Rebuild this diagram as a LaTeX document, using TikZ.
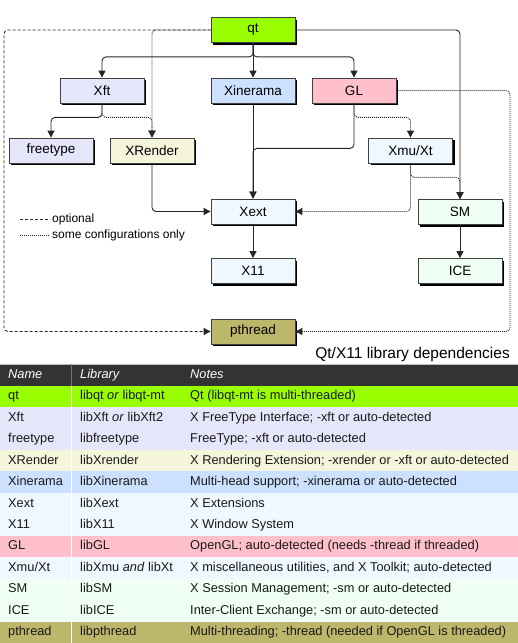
\documentclass[tikz,border=0pt]{standalone}
\usepackage{fontspec}
\setmainfont{Liberation Sans}
\usetikzlibrary{arrows.meta,shadows}

\definecolor{qtgreen}{HTML}{99FF00}
\definecolor{xftlavender}{HTML}{E6E6FA}
\definecolor{renderbeige}{HTML}{F5F5DC}
\definecolor{xineblue}{HTML}{CCE0FF}
\definecolor{xlibblue}{HTML}{F0F8FF}
\definecolor{glpink}{HTML}{FFC0CB}
\definecolor{smmint}{HTML}{F0FFF4}
\definecolor{threadkhaki}{HTML}{BDB76B}
\definecolor{headgrey}{HTML}{333333}

\begin{document}
\begin{tikzpicture}[x=1pt,y=-1pt]
\useasboundingbox (0,0) rectangle (518,643);

% Style for nodes
\tikzstyle{libbox}=[draw=black!75,line width=0.8pt,minimum width=84pt,minimum height=25pt,inner sep=0pt,font=\fontsize{13.5}{15}\selectfont,drop shadow={shadow xshift=2pt,shadow yshift=-2pt,fill=black,opacity=1}]
\tikzstyle{cell}=[anchor=west,inner sep=0pt,text height=9.5pt,text depth=2.5pt,font=\fontsize{12.8}{15}\selectfont,text=black!90]
% Style for connectors
\tikzstyle{dep}=[draw=black!85,line width=0.9pt,rounded corners=4pt,-{Triangle[length=7pt,width=7pt]}]
\tikzstyle{optional}=[dep,dash pattern=on 3pt off 2pt]
\tikzstyle{someconf}=[dep,dash pattern=on 1pt off 1pt]

% The libraries
\node(qt)[libbox,fill=qtgreen] at (253,30){qt};
\node(Xft)[libbox,fill=xftlavender] at (102,90.5){Xft};
\node(Xinerama)[libbox,fill=xineblue] at (253,90.5){Xinerama};
\node(GL)[libbox,fill=glpink] at (354,90.5){GL};
\node(freetype)[libbox,fill=xftlavender] at (51,150.5){freetype};
\node(XRender)[libbox,fill=renderbeige] at (152,150.5){XRender};
\node(Xmu)[libbox,fill=xlibblue] at (410.5,150.5){Xmu/Xt};
\node(Xext)[libbox,fill=xlibblue] at (253,211.5){Xext};
\node(SM)[libbox,fill=smmint] at (460,212){SM};
\node(X11)[libbox,fill=xlibblue] at (253,271){X11};
\node(ICE)[libbox,fill=smmint] at (460,271){ICE};
\node(pthread)[libbox,fill=threadkhaki] at (253,331.5){pthread};

% Required dependencies
\draw[dep] (qt.south) -- ++(0,14) -| (Xft.north);
\draw[dep] (qt.south) -- (Xinerama.north);
\draw[dep] (qt.south) -- ++(0,14) -| (GL.north);
\draw[dep] (qt.east) -| (SM.north);
\draw[dep] (Xft.south) -- ++(0,14) -| (freetype.north);
\draw[dep] (XRender.south) |- (Xext.west);
\draw[dep] (Xinerama.south) -- (Xext.north);
\draw[dep] (GL.south) -- ++(0,45) -| (Xext.north);
\draw[dep] (Xext.south) -- (X11.north);
\draw[dep] (SM.south) -- (ICE.north);
% Optional
\coordinate (leftrail) at (4,331.5);
\draw[optional] (qt.west) -| (leftrail) -- (pthread.west);
% Some configurations only
\coordinate (rightrail) at (510,331.5);
\draw[someconf] (qt.west) -| (XRender.north);
\draw[someconf] (Xft.south) -- ++(0,14) -| (XRender.north);
\draw[someconf] (GL.south) -- ++(0,14) -| (Xmu.north);
\draw[someconf] (GL.east) -| (rightrail) -- (pthread.east);
\draw[someconf] (Xmu.south) |- (Xext.east);
\draw[someconf] (Xmu.south) -- ++(0,14) -| (SM.north);

% Legend
\draw[black!85,line width=0.9pt,dash pattern=on 3pt off 2pt] (20,219) -- (50,219);
\node(optlabel)[anchor=west,inner sep=1pt,font=\fontsize{12}{14}\selectfont] at (51,219){optional};
\draw[black!85,line width=0.9pt,dash pattern=on 1pt off 1pt] (20,235) -- (50,235);
\node(somelabel)[anchor=west,inner sep=1pt,font=\fontsize{12}{14}\selectfont] at (51,235){some configurations only};

% Caption
\node(caption)[anchor=east,inner sep=0pt,font=\fontsize{15.5}{17}\selectfont] at (510,354){Qt/X11 library dependencies};

% The table
\fill[headgrey] (0,364) rectangle (518,385.5);
\draw[black!25] (0,364) -- (518,364);
\node(hname)[cell,text=white] at (8,375){\itshape Name};
\node(hlib)[cell,text=white] at (80,375){\itshape Library};
\node(hnotes)[cell,text=white] at (190,375){\itshape Notes};
\foreach \i/\nm/\lib/\note/\col in {
  1/qt/{libqt \textit{or} libqt-mt}/{Qt (libqt-mt is multi-threaded)}/qtgreen,
  2/Xft/{libXft \textit{or} libXft2}/{X FreeType Interface; -xft or auto-detected}/xftlavender,
  3/freetype/libfreetype/{FreeType; -xft or auto-detected}/xftlavender,
  4/XRender/libXrender/{X Rendering Extension; -xrender or -xft or auto-detected}/renderbeige,
  5/Xinerama/libXinerama/{Multi-head support; -xinerama or auto-detected}/xineblue,
  6/Xext/libXext/{X Extensions}/xlibblue,
  7/X11/libX11/{X Window System}/xlibblue,
  8/GL/libGL/{OpenGL; auto-detected (needs -thread if threaded)}/glpink,
  9/{Xmu/Xt}/{libXmu \textit{and} libXt}/{X miscellaneous utilities, and X Toolkit; auto-detected}/xlibblue,
  10/SM/libSM/{X Session Management; -sm or auto-detected}/smmint,
  11/ICE/libICE/{Inter-Client Exchange; -sm or auto-detected}/smmint,
  12/pthread/libpthread/{Multi-threading; -thread (needed if OpenGL is threaded)}/threadkhaki}
{
  \pgfmathsetmacro\rowtop{385.5+21.46*(\i-1)}
  \fill[\col] (0,\rowtop) rectangle (518,\rowtop+21.46);
  \node(name\i)[cell] at (8,\rowtop+10.73){\nm};
  \node(lib\i)[cell] at (80,\rowtop+10.73){\lib};
  \node(note\i)[cell] at (190,\rowtop+10.73){\note};
}
\draw[white,line width=1pt] (71,385.5) -- (71,643);
\draw[black!55,line width=1pt] (71,364) -- (71,385.5);
\end{tikzpicture}
\end{document}
